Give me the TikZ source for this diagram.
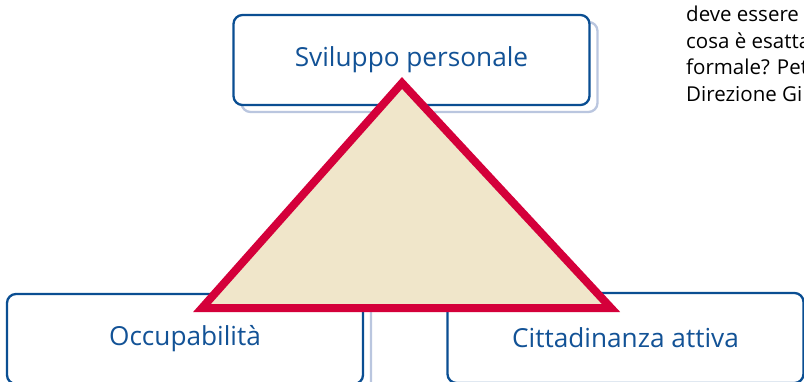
\documentclass[tikz,border=0pt]{standalone}
\usepackage{fontspec}
\setmainfont{Open Sans}
\usetikzlibrary{shadows}
\definecolor{boxblue}{RGB}{10,78,146}
\definecolor{textblue}{RGB}{18,82,150}
\definecolor{shadowblue}{RGB}{186,198,223}
\definecolor{trired}{RGB}{212,0,58}
\definecolor{trifill}{RGB}{240,230,202}

\begin{document}
\begin{tikzpicture}[x=1pt,y=1pt,
  goal/.style={draw=boxblue, line width=2.3pt, rounded corners=9pt, fill=white,
    minimum width=356pt, minimum height=90pt, text=textblue,
    font=\fontsize{26.2}{31}\selectfont,
    copy shadow={shadow xshift=8pt, shadow yshift=-7pt, draw=shadowblue, fill=white}},
  note/.style={anchor=base west, inner sep=0pt, font=\fontsize{20.5}{26}\selectfont}]
\clip (0,0) rectangle (804,381);

\node[goal] (personal) at (411.5,321) {Sviluppo personale};
\node[goal] (employ) at (185,42) {Occupabilità};
\node[goal] (citizen) at (625.5,43) {Cittadinanza attiva};

\coordinate (apex) at (402,298);
\coordinate (left) at (202,73);
\coordinate (right) at (611,73);
\draw[trired, fill=trifill, line width=8pt, miter limit=10] (left) -- (apex) -- (right) -- cycle;

\node[note] (line1) at (686,359) {deve essere};
\node[note] (line2) at (686,332.5) {cosa è esatta};
\node[note] (line3) at (686,306) {formale? Pet};
\node[note] (line4) at (686,279.5) {Direzione Gi};
\end{tikzpicture}
\end{document}
